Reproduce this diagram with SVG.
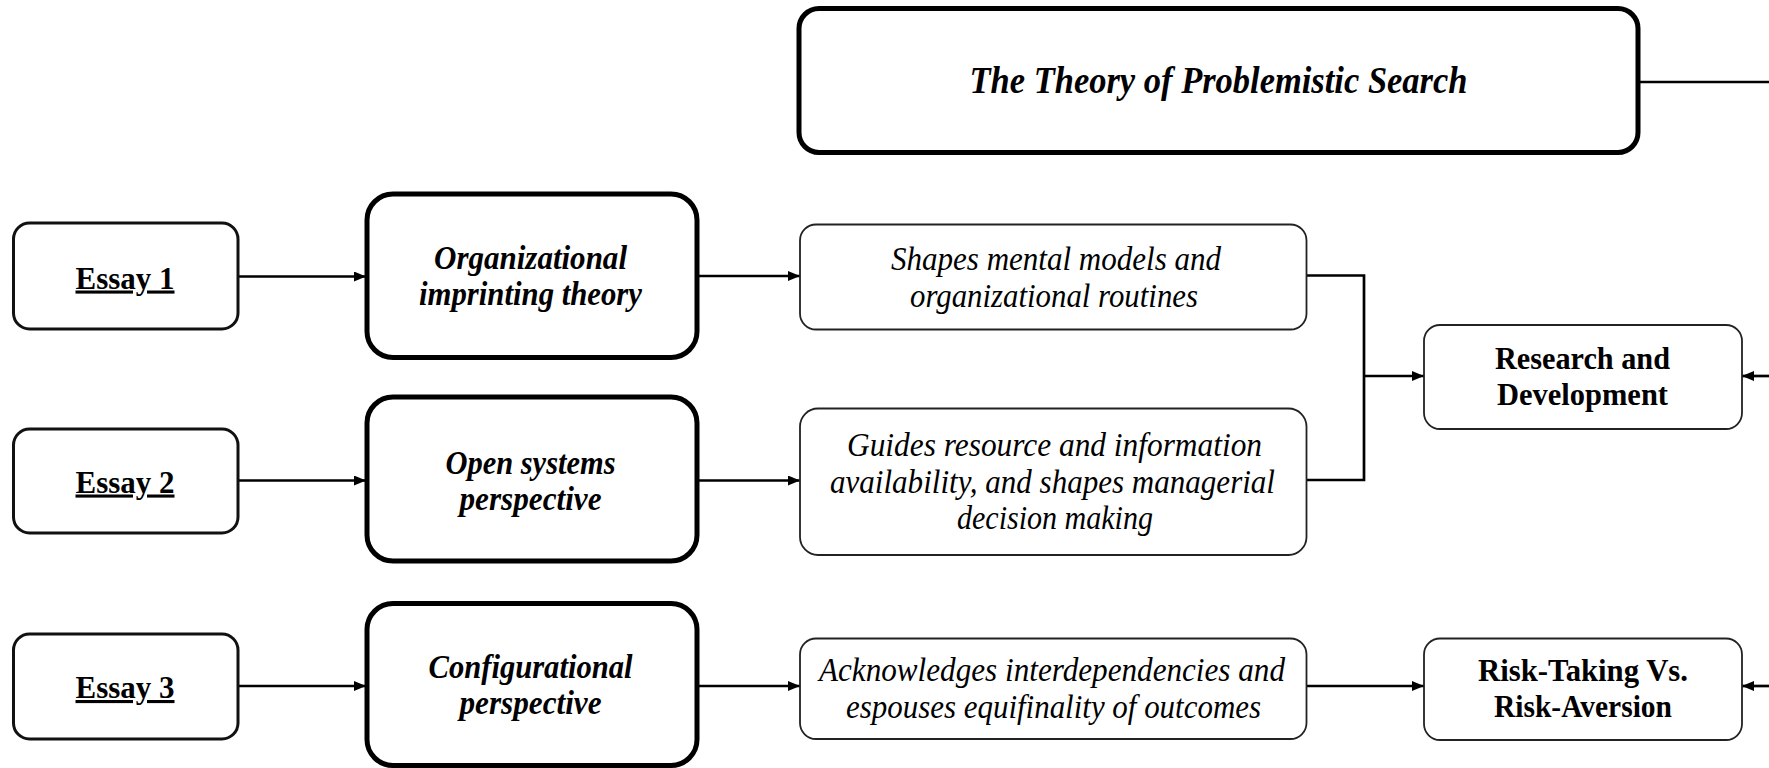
<svg xmlns="http://www.w3.org/2000/svg" width="1769" height="768" viewBox="0 0 1769 768">
<style>
  .thick{fill:#fff;stroke:#000;stroke-width:5}
  .med{fill:#fff;stroke:#111;stroke-width:3}
  .thin{fill:#fff;stroke:#222;stroke-width:1.8}
  .conn{fill:none;stroke:#000;stroke-width:2.7}
  text{font-family:"Liberation Serif","Times New Roman",serif;fill:#000;text-anchor:middle}
  .title{font-weight:bold;font-style:italic;font-size:37px}
  .essay{font-weight:bold;font-size:31px;text-decoration:underline}
  .bi{font-weight:bold;font-style:italic;font-size:33px}
  .i{font-style:italic;font-size:33px}
  .b{font-weight:bold;font-size:31px}
</style>
<defs>
  <marker id="ah" viewBox="0 0 12 10" refX="12" refY="5" markerWidth="12" markerHeight="10" markerUnits="userSpaceOnUse" orient="auto">
    <path d="M0,0 L12,5 L0,10 z" fill="#000"/>
  </marker>
</defs>
<rect x="0" y="0" width="1769" height="768" fill="#fff"/>

<g id="connectors">
  <line class="conn" x1="1638" y1="82" x2="1769" y2="82"/>
  <line class="conn" x1="238" y1="276.5" x2="366" y2="276.5" marker-end="url(#ah)"/>
  <line class="conn" x1="238" y1="480.5" x2="366" y2="480.5" marker-end="url(#ah)"/>
  <line class="conn" x1="238" y1="686" x2="366" y2="686" marker-end="url(#ah)"/>
  <line class="conn" x1="696" y1="276" x2="800" y2="276" marker-end="url(#ah)"/>
  <line class="conn" x1="696" y1="480.5" x2="800" y2="480.5" marker-end="url(#ah)"/>
  <line class="conn" x1="696" y1="686" x2="800" y2="686" marker-end="url(#ah)"/>
  <polyline class="conn" points="1306.5,275.5 1364,275.5 1364,480 1306.5,480"/>
  <line class="conn" x1="1364" y1="376" x2="1424" y2="376" marker-end="url(#ah)"/>
  <line class="conn" x1="1306.5" y1="686" x2="1424" y2="686" marker-end="url(#ah)"/>
  <line class="conn" x1="1769" y1="376" x2="1742" y2="376" marker-end="url(#ah)"/>
  <line class="conn" x1="1769" y1="686" x2="1742" y2="686" marker-end="url(#ah)"/>
</g>

<g id="theory-problemistic-search">
  <rect class="thick" x="799" y="8.5" width="839" height="144" rx="20"/>
  <text class="title" x="1218.5" y="93" textLength="498" lengthAdjust="spacingAndGlyphs">The Theory of Problemistic Search</text>
</g>

<g id="essay1">
  <rect class="med" x="13.5" y="223" width="224.5" height="106" rx="16"/>
  <text class="essay" x="125" y="288.5" textLength="99" lengthAdjust="spacingAndGlyphs">Essay 1</text>
</g>
<g id="essay2">
  <rect class="med" x="13.5" y="429" width="224.5" height="104" rx="16"/>
  <text class="essay" x="125" y="492.5" textLength="99" lengthAdjust="spacingAndGlyphs">Essay 2</text>
</g>
<g id="essay3">
  <rect class="med" x="13.5" y="634" width="224.5" height="105" rx="16"/>
  <text class="essay" x="125" y="698" textLength="99" lengthAdjust="spacingAndGlyphs">Essay 3</text>
</g>

<g id="imprinting-theory">
  <rect class="thick" x="367" y="194" width="330" height="163.5" rx="26"/>
  <text class="bi" x="530.5" y="268.5" textLength="193" lengthAdjust="spacingAndGlyphs">Organizational</text>
  <text class="bi" x="530.5" y="304.5" textLength="223" lengthAdjust="spacingAndGlyphs">imprinting theory</text>
</g>
<g id="open-systems">
  <rect class="thick" x="367" y="397" width="330" height="164" rx="26"/>
  <text class="bi" x="530.5" y="473.5" textLength="170" lengthAdjust="spacingAndGlyphs">Open systems</text>
  <text class="bi" x="530.5" y="509.5" textLength="142" lengthAdjust="spacingAndGlyphs">perspective</text>
</g>
<g id="configurational">
  <rect class="thick" x="367" y="603.5" width="330" height="162" rx="26"/>
  <text class="bi" x="530.5" y="678" textLength="204" lengthAdjust="spacingAndGlyphs">Configurational</text>
  <text class="bi" x="530.5" y="714" textLength="142" lengthAdjust="spacingAndGlyphs">perspective</text>
</g>

<g id="desc1">
  <rect class="thin" x="800" y="224.5" width="506.5" height="105" rx="16"/>
  <text class="i" x="1056" y="269.5" textLength="330" lengthAdjust="spacingAndGlyphs">Shapes mental models and</text>
  <text class="i" x="1054" y="307" textLength="288" lengthAdjust="spacingAndGlyphs">organizational routines</text>
</g>
<g id="desc2">
  <rect class="thin" x="800" y="408.5" width="506.5" height="146.5" rx="18"/>
  <text class="i" x="1054.5" y="455.5" textLength="415" lengthAdjust="spacingAndGlyphs">Guides resource and information</text>
  <text class="i" x="1052.5" y="492.5" textLength="445" lengthAdjust="spacingAndGlyphs">availability, and shapes managerial</text>
  <text class="i" x="1055" y="529" textLength="196" lengthAdjust="spacingAndGlyphs">decision making</text>
</g>
<g id="desc3">
  <rect class="thin" x="800" y="638.5" width="506.5" height="100.5" rx="16"/>
  <text class="i" x="1052" y="680.5" textLength="466" lengthAdjust="spacingAndGlyphs">Acknowledges interdependencies and</text>
  <text class="i" x="1053.5" y="717.5" textLength="415" lengthAdjust="spacingAndGlyphs">espouses equifinality of outcomes</text>
</g>

<g id="research-development">
  <rect class="thin" x="1424" y="325" width="318" height="104" rx="16"/>
  <text class="b" x="1582.5" y="368.5" textLength="175" lengthAdjust="spacingAndGlyphs">Research and</text>
  <text class="b" x="1582.5" y="404.5" textLength="171" lengthAdjust="spacingAndGlyphs">Development</text>
</g>
<g id="risk">
  <rect class="thin" x="1424" y="638.5" width="318" height="101.5" rx="16"/>
  <text class="b" x="1583" y="680.5" textLength="210" lengthAdjust="spacingAndGlyphs">Risk-Taking Vs.</text>
  <text class="b" x="1583" y="716.5" textLength="178" lengthAdjust="spacingAndGlyphs">Risk-Aversion</text>
</g>
</svg>
